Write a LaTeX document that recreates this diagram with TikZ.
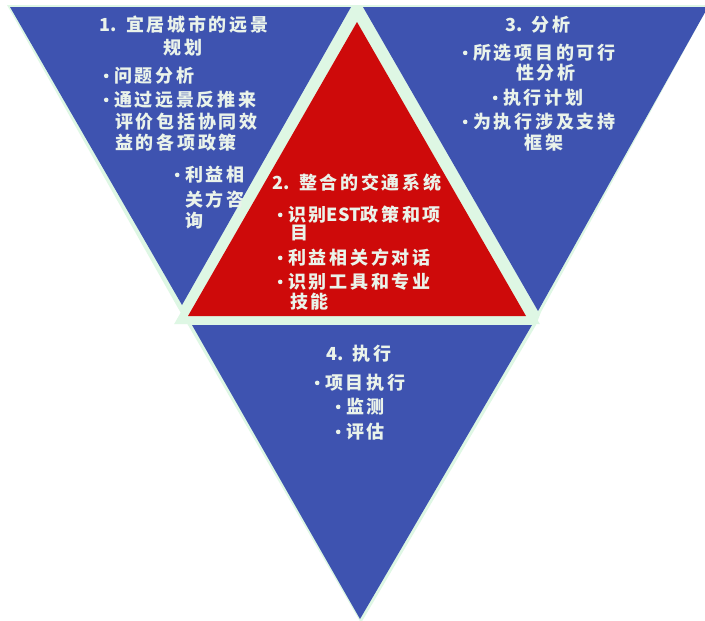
\documentclass[tikz,border=0pt]{standalone}
\usepackage{fontspec}
\newfontfamily\cjk{Noto Sans CJK SC}[LetterSpace=15]
\newfontfamily\cjkn{Noto Sans CJK SC}
\definecolor{triblue}{RGB}{62,83,176}
\definecolor{trired}{RGB}{206,10,10}
\definecolor{mint}{RGB}{222,247,228}
\definecolor{txtc}{RGB}{234,243,234}
\newcommand\bul{\makebox[16pt][c]{\raisebox{4.6pt}{\tikz\fill[txtc] (0,0) circle (2.3pt);}}}
\newcommand\lat[1]{{\cjkn #1}}
\tikzset{
  bluetri/.style={fill=triblue},
  redtri/.style={fill=trired},
  redrim/.style={draw=mint, line width=16pt, line join=miter},
  mintbg/.style={fill=mint},
  txt/.style={text=txtc, inner sep=0pt, font={\cjk\bfseries\fontsize{18}{22}\selectfont}, text height=15.8pt, text depth=2.2pt},
}
\begin{document}
\begin{tikzpicture}[x=1pt,y=-1pt]
\useasboundingbox[fill=white] (0,0) rectangle (705,621);
% mint background
\fill[mintbg] (7,5) -- (709,5) -- (541,312) -- (536,325) -- (361,623) -- (188,325) -- (178,308) -- cycle;
% blue triangles
\fill[bluetri] (10,7) -- (351,7) -- (182,305) -- cycle;
\fill[bluetri] (363,7) -- (708,7) -- (538,311) -- cycle;
\fill[bluetri] (192,325) -- (532,325) -- (360,619) -- cycle;
% texts of triangle 1
\node[txt] (t1a) at (184,25) {\lat{1.} 宜居城市的远景};
\node[txt] (t1b) at (183,48) {规划};
\node[txt, anchor=west] (t1c) at (98,76) {\bul 问题分析};
\node[txt, anchor=west] (t1d) at (98,100) {\bul 通过远景反推来};
\node[txt, anchor=west] (t1e) at (115,122) {评价包括协同效};
\node[txt, anchor=west] (t1f) at (115,143) {益的各项政策};
\node[txt, anchor=west] (t1g) at (169,175) {\bul 利益相};
\node[txt, anchor=west] (t1h) at (185,200) {关方咨};
\node[txt, anchor=west] (t1i) at (185,221) {询};
% texts of triangle 3
\node[txt] (t3a) at (538,25) {\lat{3.} 分析};
\node[txt, anchor=west] (t3b) at (457,53) {\bul 所选项目的可行};
\node[txt] (t3c) at (546,73) {性分析};
\node[txt, anchor=west] (t3d) at (487,98) {\bul 执行计划};
\node[txt, anchor=west] (t3e) at (457,122) {\bul 为执行涉及支持};
\node[txt] (t3f) at (544,143) {框架};
% texts of triangle 4
\node[txt] (t4a) at (359,354) {\lat{4.} 执行};
\node[txt, anchor=west] (t4b) at (309,383) {\bul 项目执行};
\node[txt, anchor=west] (t4c) at (330,407) {\bul 监测};
\node[txt, anchor=west] (t4d) at (330,432) {\bul 评估};
% red triangle
\draw[redrim] (357,22) -- (188,316) -- (526,316) -- cycle;
\fill[redtri] (357,22) -- (188,316) -- (526,316) -- cycle;
% texts of triangle 2
\node[txt] (t2a) at (357,183) {\lat{2.} 整合的交通系统};
\node[txt, anchor=west] (t2b) at (272,215) {\bul 识别\lat{EST}政策和项};
\node[txt, anchor=west] (t2c) at (290,233) {目};
\node[txt, anchor=west] (t2d) at (272,258) {\bul 利益相关方对话};
\node[txt, anchor=west] (t2e) at (272,282) {\bul 识别工具和专业};
\node[txt, anchor=west] (t2f) at (290,302) {技能};
\end{tikzpicture}
\end{document}
